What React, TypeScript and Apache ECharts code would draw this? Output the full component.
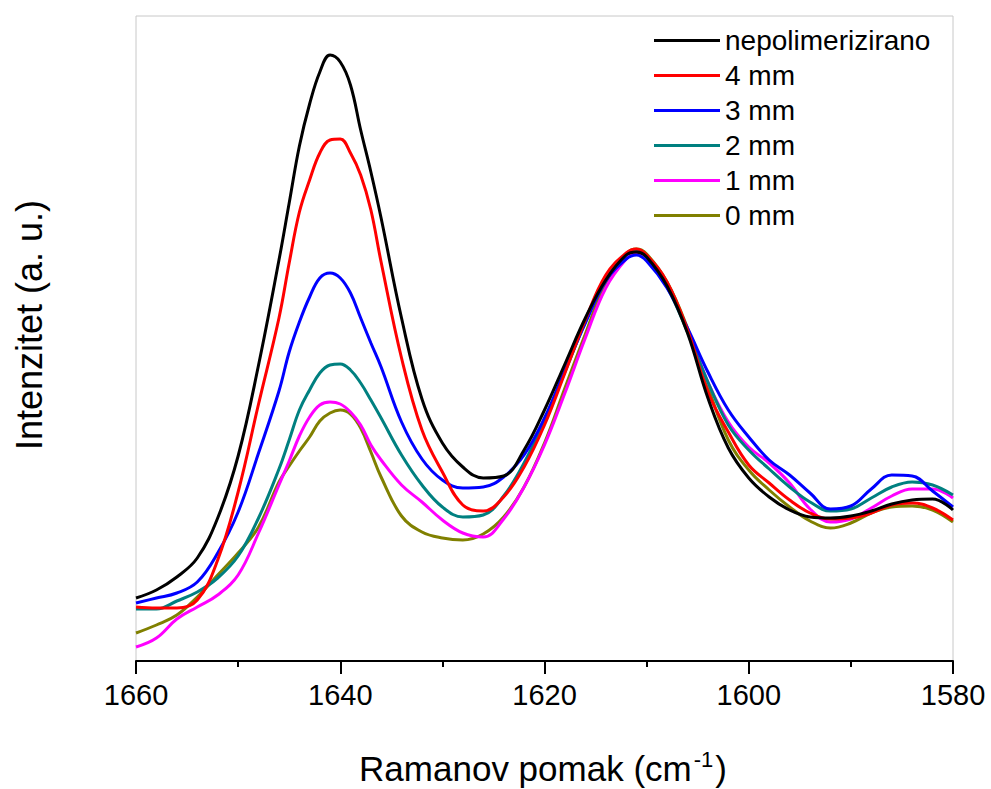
import React, { useEffect, useRef } from "react";
import * as echarts from "echarts";

// Raman shift grid (cm^-1)
const wavenumbers = [
  1660, 1658, 1656, 1654, 1652, 1650, 1648, 1646,
  1645, 1644, 1643, 1642, 1641, 1640, 1639, 1638, 1637, 1636,
  1634, 1632, 1630, 1628, 1626, 1624, 1622, 1620, 1618, 1616, 1614, 1612, 1611,
  1610, 1608, 1606, 1604, 1602, 1600, 1598, 1596, 1594, 1592, 1590, 1588,
  1586, 1584, 1582, 1580,
];

const seriesNames = ["nepolimerizirano", "4 mm", "3 mm", "2 mm", "1 mm", "0 mm"];
const seriesColors = ["#000000", "#ff0000", "#0000ff", "#008080", "#ff00ff", "#808000"];

const nepolimerizirano = [
  63, 71, 84, 103, 143, 205, 296, 401,
  458, 515, 557, 589, 606, 599, 576, 531, 489, 443,
  343, 262, 218, 194, 183, 185, 211, 251, 297, 343, 381, 406, 409,
  404, 375, 328, 263, 213, 183, 164, 151, 144, 143, 145, 150,
  157, 161, 162, 151,
];
const mm4 = [
  54, 53, 53, 61, 101, 169, 257, 343,
  398, 449, 481, 508, 521, 522, 508, 486, 451, 399,
  303, 231, 189, 156, 150, 164, 194, 236, 288, 341, 386, 408, 412,
  406, 379, 331, 269, 229, 196, 178, 161, 148, 142, 143, 148,
  156, 158, 153, 141,
];
const mm3 = [
  58, 63, 68, 79, 108, 149, 208, 270,
  309, 339, 364, 383, 388, 383, 368, 343, 318, 294,
  239, 202, 181, 173, 174, 184, 206, 243, 291, 338, 380, 402, 406,
  400, 373, 333, 289, 251, 224, 201, 186, 168, 152, 155, 172,
  186, 185, 170, 154,
];
const mm2 = [
  52, 52, 60, 69, 83, 105, 143, 192,
  221, 251, 271, 288, 296, 297, 291, 278, 261, 243,
  206, 176, 154, 144, 146, 165, 198, 241, 289, 339, 382, 406, 410,
  404, 374, 329, 279, 236, 211, 192, 174, 159, 150, 152, 163,
  174, 179, 176, 166,
];
const mm1 = [
  14, 23, 42, 54, 66, 86, 128, 176,
  200, 225, 244, 256, 259, 257, 249, 236, 216, 201,
  176, 159, 141, 128, 124, 142, 174, 216, 268, 323, 373, 402, 408,
  404, 376, 331, 279, 239, 214, 198, 178, 152, 139, 142, 153,
  165, 172, 172, 163,
];
const mm0 = [
  28, 36, 46, 64, 86, 108, 134, 179,
  195, 210, 224, 240, 248, 251, 247, 233, 209, 184,
  145, 129, 123, 121, 127, 144, 174, 218, 273, 327, 378, 407, 412,
  407, 379, 333, 274, 221, 191, 171, 154, 140, 133, 138, 148,
  154, 155, 151, 139,
];

const xTickMin = 1580;
const xTickMax = 1660;
const xTickStep = 20;

const FONT = "Arial, 'Liberation Sans', sans-serif";

export default function App() {
  const ref = useRef<HTMLDivElement>(null);

  useEffect(() => {
    if (!ref.current) return;
    const chart = echarts.init(ref.current, undefined, { renderer: "svg" });
    const allSeries = [nepolimerizirano, mm4, mm3, mm2, mm1, mm0];

    chart.setOption({
      animation: false,
      backgroundColor: "#ffffff",
      grid: {
        left: 136,
        right: 38,
        top: 16,
        bottom: 128,
        show: true,
        borderColor: "#c8c8c8",
        borderWidth: 1,
        backgroundColor: "transparent",
      },
      legend: {
        orient: "vertical",
        left: 649,
        top: 18,
        itemWidth: 66,
        itemHeight: 3,
        itemGap: 0,
        icon: "rect",
        textStyle: {
          fontFamily: FONT,
          fontSize: 28,
          color: "#000000",
          lineHeight: 35,
        },
        data: seriesNames,
      },
      xAxis: {
        type: "value",
        min: xTickMin,
        max: xTickMax,
        interval: xTickStep,
        inverse: true,
        axisLine: { show: true, onZero: false, lineStyle: { color: "#000000", width: 2 } },
        axisTick: { show: true, inside: false, length: 13, lineStyle: { color: "#000000", width: 2 } },
        minorTick: { show: true, splitNumber: 2, length: 6, lineStyle: { color: "#000000", width: 2 } },
        axisLabel: {
          fontFamily: FONT,
          fontSize: 29,
          color: "#000000",
          margin: 19,
          formatter: (v: number) => String(v),
        },
        splitLine: { show: false },
      },
      yAxis: {
        type: "value",
        min: 0,
        max: 645,
        axisLine: { show: false },
        axisTick: { show: false },
        axisLabel: { show: false },
        splitLine: { show: false },
      },
      graphic: [
        {
          type: "text",
          x: 29,
          y: 325,
          rotation: Math.PI / 2,
          style: {
            text: "Intenzitet (a. u.)",
            font: `36px ${FONT}`,
            fill: "#000000",
            align: "center",
            verticalAlign: "middle",
          },
        },
        {
          type: "text",
          x: 543,
          y: 768,
          style: {
            text: "{base|Ramanov pomak (cm}{sup|-1}{base|)}",
            align: "center",
            verticalAlign: "middle",
            rich: {
              base: { fontFamily: FONT, fontSize: 35, fill: "#000000", lineHeight: 40 },
              sup: {
                fontFamily: FONT,
                fontSize: 22,
                fill: "#000000",
                verticalAlign: "top",
                lineHeight: 22,
                padding: [0, 2, 14, 2],
              },
            },
          },
        },
      ],
      series: allSeries.map((vals, i) => ({
        name: seriesNames[i],
        type: "line",
        data: wavenumbers.map((w, j) => [w, vals[j]]),
        showSymbol: false,
        symbol: "none",
        smooth: 0.4,
        lineStyle: { color: seriesColors[i], width: 3 },
        itemStyle: { color: seriesColors[i] },
        z: 10 - i,
      })),
    });

    return () => {
      chart.dispose();
    };
  }, []);

  return (
    <div
      ref={ref}
      style={{ position: "absolute", left: 0, top: 0, width: 991, height: 789 }}
    />
  );
}
